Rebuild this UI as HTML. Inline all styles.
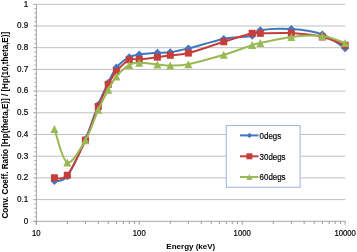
<!DOCTYPE html>
<html><head><meta charset="utf-8"><style>
html,body{margin:0;padding:0;background:#fff;width:357px;height:252px;overflow:hidden}
svg{display:block}
.t{font-family:"Liberation Sans",sans-serif;font-size:9px;fill:#000;stroke:#000;stroke-width:0.2px}
.b{font-family:"Liberation Sans",sans-serif;font-size:8px;font-weight:bold;fill:#000}
</style></head><body>
<svg width="357" height="252" viewBox="0 0 357 252">
<defs><filter id="gs" x="0" y="0" width="357" height="252" filterUnits="userSpaceOnUse"><feColorMatrix type="saturate" values="0"/></filter></defs>
<rect width="357" height="252" fill="#fff"/>
<line x1="36.4" y1="4.30" x2="345.4" y2="4.30" stroke="#BFBFBF" stroke-width="1"/>
<line x1="36.4" y1="26.00" x2="345.4" y2="26.00" stroke="#BFBFBF" stroke-width="1"/>
<line x1="36.4" y1="47.70" x2="345.4" y2="47.70" stroke="#BFBFBF" stroke-width="1"/>
<line x1="36.4" y1="69.40" x2="345.4" y2="69.40" stroke="#BFBFBF" stroke-width="1"/>
<line x1="36.4" y1="91.10" x2="345.4" y2="91.10" stroke="#BFBFBF" stroke-width="1"/>
<line x1="36.4" y1="112.80" x2="345.4" y2="112.80" stroke="#BFBFBF" stroke-width="1"/>
<line x1="36.4" y1="134.50" x2="345.4" y2="134.50" stroke="#BFBFBF" stroke-width="1"/>
<line x1="36.4" y1="156.20" x2="345.4" y2="156.20" stroke="#BFBFBF" stroke-width="1"/>
<line x1="36.4" y1="177.90" x2="345.4" y2="177.90" stroke="#BFBFBF" stroke-width="1"/>
<line x1="36.4" y1="199.60" x2="345.4" y2="199.60" stroke="#BFBFBF" stroke-width="1"/>
<line x1="33.2" y1="221.30" x2="36.4" y2="221.30" stroke="#A6A6A6" stroke-width="1"/>
<line x1="34.4" y1="216.96" x2="36.4" y2="216.96" stroke="#A6A6A6" stroke-width="1"/>
<line x1="34.4" y1="212.62" x2="36.4" y2="212.62" stroke="#A6A6A6" stroke-width="1"/>
<line x1="34.4" y1="208.28" x2="36.4" y2="208.28" stroke="#A6A6A6" stroke-width="1"/>
<line x1="34.4" y1="203.94" x2="36.4" y2="203.94" stroke="#A6A6A6" stroke-width="1"/>
<line x1="33.2" y1="199.60" x2="36.4" y2="199.60" stroke="#A6A6A6" stroke-width="1"/>
<line x1="34.4" y1="195.26" x2="36.4" y2="195.26" stroke="#A6A6A6" stroke-width="1"/>
<line x1="34.4" y1="190.92" x2="36.4" y2="190.92" stroke="#A6A6A6" stroke-width="1"/>
<line x1="34.4" y1="186.58" x2="36.4" y2="186.58" stroke="#A6A6A6" stroke-width="1"/>
<line x1="34.4" y1="182.24" x2="36.4" y2="182.24" stroke="#A6A6A6" stroke-width="1"/>
<line x1="33.2" y1="177.90" x2="36.4" y2="177.90" stroke="#A6A6A6" stroke-width="1"/>
<line x1="34.4" y1="173.56" x2="36.4" y2="173.56" stroke="#A6A6A6" stroke-width="1"/>
<line x1="34.4" y1="169.22" x2="36.4" y2="169.22" stroke="#A6A6A6" stroke-width="1"/>
<line x1="34.4" y1="164.88" x2="36.4" y2="164.88" stroke="#A6A6A6" stroke-width="1"/>
<line x1="34.4" y1="160.54" x2="36.4" y2="160.54" stroke="#A6A6A6" stroke-width="1"/>
<line x1="33.2" y1="156.20" x2="36.4" y2="156.20" stroke="#A6A6A6" stroke-width="1"/>
<line x1="34.4" y1="151.86" x2="36.4" y2="151.86" stroke="#A6A6A6" stroke-width="1"/>
<line x1="34.4" y1="147.52" x2="36.4" y2="147.52" stroke="#A6A6A6" stroke-width="1"/>
<line x1="34.4" y1="143.18" x2="36.4" y2="143.18" stroke="#A6A6A6" stroke-width="1"/>
<line x1="34.4" y1="138.84" x2="36.4" y2="138.84" stroke="#A6A6A6" stroke-width="1"/>
<line x1="33.2" y1="134.50" x2="36.4" y2="134.50" stroke="#A6A6A6" stroke-width="1"/>
<line x1="34.4" y1="130.16" x2="36.4" y2="130.16" stroke="#A6A6A6" stroke-width="1"/>
<line x1="34.4" y1="125.82" x2="36.4" y2="125.82" stroke="#A6A6A6" stroke-width="1"/>
<line x1="34.4" y1="121.48" x2="36.4" y2="121.48" stroke="#A6A6A6" stroke-width="1"/>
<line x1="34.4" y1="117.14" x2="36.4" y2="117.14" stroke="#A6A6A6" stroke-width="1"/>
<line x1="33.2" y1="112.80" x2="36.4" y2="112.80" stroke="#A6A6A6" stroke-width="1"/>
<line x1="34.4" y1="108.46" x2="36.4" y2="108.46" stroke="#A6A6A6" stroke-width="1"/>
<line x1="34.4" y1="104.12" x2="36.4" y2="104.12" stroke="#A6A6A6" stroke-width="1"/>
<line x1="34.4" y1="99.78" x2="36.4" y2="99.78" stroke="#A6A6A6" stroke-width="1"/>
<line x1="34.4" y1="95.44" x2="36.4" y2="95.44" stroke="#A6A6A6" stroke-width="1"/>
<line x1="33.2" y1="91.10" x2="36.4" y2="91.10" stroke="#A6A6A6" stroke-width="1"/>
<line x1="34.4" y1="86.76" x2="36.4" y2="86.76" stroke="#A6A6A6" stroke-width="1"/>
<line x1="34.4" y1="82.42" x2="36.4" y2="82.42" stroke="#A6A6A6" stroke-width="1"/>
<line x1="34.4" y1="78.08" x2="36.4" y2="78.08" stroke="#A6A6A6" stroke-width="1"/>
<line x1="34.4" y1="73.74" x2="36.4" y2="73.74" stroke="#A6A6A6" stroke-width="1"/>
<line x1="33.2" y1="69.40" x2="36.4" y2="69.40" stroke="#A6A6A6" stroke-width="1"/>
<line x1="34.4" y1="65.06" x2="36.4" y2="65.06" stroke="#A6A6A6" stroke-width="1"/>
<line x1="34.4" y1="60.72" x2="36.4" y2="60.72" stroke="#A6A6A6" stroke-width="1"/>
<line x1="34.4" y1="56.38" x2="36.4" y2="56.38" stroke="#A6A6A6" stroke-width="1"/>
<line x1="34.4" y1="52.04" x2="36.4" y2="52.04" stroke="#A6A6A6" stroke-width="1"/>
<line x1="33.2" y1="47.70" x2="36.4" y2="47.70" stroke="#A6A6A6" stroke-width="1"/>
<line x1="34.4" y1="43.36" x2="36.4" y2="43.36" stroke="#A6A6A6" stroke-width="1"/>
<line x1="34.4" y1="39.02" x2="36.4" y2="39.02" stroke="#A6A6A6" stroke-width="1"/>
<line x1="34.4" y1="34.68" x2="36.4" y2="34.68" stroke="#A6A6A6" stroke-width="1"/>
<line x1="34.4" y1="30.34" x2="36.4" y2="30.34" stroke="#A6A6A6" stroke-width="1"/>
<line x1="33.2" y1="26.00" x2="36.4" y2="26.00" stroke="#A6A6A6" stroke-width="1"/>
<line x1="34.4" y1="21.66" x2="36.4" y2="21.66" stroke="#A6A6A6" stroke-width="1"/>
<line x1="34.4" y1="17.32" x2="36.4" y2="17.32" stroke="#A6A6A6" stroke-width="1"/>
<line x1="34.4" y1="12.98" x2="36.4" y2="12.98" stroke="#A6A6A6" stroke-width="1"/>
<line x1="34.4" y1="8.64" x2="36.4" y2="8.64" stroke="#A6A6A6" stroke-width="1"/>
<line x1="33.2" y1="4.30" x2="36.4" y2="4.30" stroke="#A6A6A6" stroke-width="1"/>
<line x1="36.4" y1="4.3" x2="36.4" y2="224.5" stroke="#A6A6A6" stroke-width="1"/>
<line x1="33.2" y1="221.30" x2="345.4" y2="221.30" stroke="#A6A6A6" stroke-width="1"/>
<line x1="36.30" y1="221.30" x2="36.30" y2="224.70" stroke="#999" stroke-width="1"/>
<line x1="67.29" y1="221.30" x2="67.29" y2="224.00" stroke="#999" stroke-width="1"/>
<line x1="85.42" y1="221.30" x2="85.42" y2="224.00" stroke="#999" stroke-width="1"/>
<line x1="98.28" y1="221.30" x2="98.28" y2="224.00" stroke="#999" stroke-width="1"/>
<line x1="108.26" y1="221.30" x2="108.26" y2="224.00" stroke="#999" stroke-width="1"/>
<line x1="116.41" y1="221.30" x2="116.41" y2="224.00" stroke="#999" stroke-width="1"/>
<line x1="123.30" y1="221.30" x2="123.30" y2="224.00" stroke="#999" stroke-width="1"/>
<line x1="129.27" y1="221.30" x2="129.27" y2="224.00" stroke="#999" stroke-width="1"/>
<line x1="134.54" y1="221.30" x2="134.54" y2="224.00" stroke="#999" stroke-width="1"/>
<line x1="139.25" y1="221.30" x2="139.25" y2="224.70" stroke="#999" stroke-width="1"/>
<line x1="170.24" y1="221.30" x2="170.24" y2="224.00" stroke="#999" stroke-width="1"/>
<line x1="188.37" y1="221.30" x2="188.37" y2="224.00" stroke="#999" stroke-width="1"/>
<line x1="201.23" y1="221.30" x2="201.23" y2="224.00" stroke="#999" stroke-width="1"/>
<line x1="211.21" y1="221.30" x2="211.21" y2="224.00" stroke="#999" stroke-width="1"/>
<line x1="219.36" y1="221.30" x2="219.36" y2="224.00" stroke="#999" stroke-width="1"/>
<line x1="226.25" y1="221.30" x2="226.25" y2="224.00" stroke="#999" stroke-width="1"/>
<line x1="232.22" y1="221.30" x2="232.22" y2="224.00" stroke="#999" stroke-width="1"/>
<line x1="237.49" y1="221.30" x2="237.49" y2="224.00" stroke="#999" stroke-width="1"/>
<line x1="242.20" y1="221.30" x2="242.20" y2="224.70" stroke="#999" stroke-width="1"/>
<line x1="273.19" y1="221.30" x2="273.19" y2="224.00" stroke="#999" stroke-width="1"/>
<line x1="291.32" y1="221.30" x2="291.32" y2="224.00" stroke="#999" stroke-width="1"/>
<line x1="304.18" y1="221.30" x2="304.18" y2="224.00" stroke="#999" stroke-width="1"/>
<line x1="314.16" y1="221.30" x2="314.16" y2="224.00" stroke="#999" stroke-width="1"/>
<line x1="322.31" y1="221.30" x2="322.31" y2="224.00" stroke="#999" stroke-width="1"/>
<line x1="329.20" y1="221.30" x2="329.20" y2="224.00" stroke="#999" stroke-width="1"/>
<line x1="335.17" y1="221.30" x2="335.17" y2="224.00" stroke="#999" stroke-width="1"/>
<line x1="340.44" y1="221.30" x2="340.44" y2="224.00" stroke="#999" stroke-width="1"/>
<line x1="345.15" y1="221.30" x2="345.15" y2="224.70" stroke="#999" stroke-width="1"/>
<path d="M54.43,180.98 C56.57,180.18 62.13,183.14 67.29,176.21 C72.46,169.27 80.25,151.27 85.42,139.35 C90.58,127.43 94.48,114.09 98.28,104.66 C102.09,95.23 105.24,88.94 108.26,82.76 C111.28,76.59 112.91,71.85 116.41,67.59 C119.91,63.33 125.47,59.35 129.27,57.18 C133.08,55.01 134.57,55.30 139.25,54.58 C143.93,53.86 152.21,53.24 157.38,52.85 C162.54,52.45 165.08,52.94 170.24,52.20 C175.41,51.46 179.45,50.62 188.37,48.40 C197.29,46.19 213.12,41.01 223.76,38.91 C234.39,36.81 246.08,37.26 252.18,35.81 C258.27,34.35 253.80,31.31 260.33,30.19 C266.85,29.07 280.99,28.40 291.32,29.11 C301.65,29.81 313.34,31.22 322.31,34.42 C331.28,37.62 341.34,45.98 345.15,48.29" fill="none" stroke="#4077BF" stroke-width="2"/>
<path d="M54.43,176.98L58.43,180.98L54.43,184.98L50.43,180.98Z" fill="#4077BF"/>
<path d="M67.29,172.21L71.29,176.21L67.29,180.21L63.29,176.21Z" fill="#4077BF"/>
<path d="M85.42,135.35L89.42,139.35L85.42,143.35L81.42,139.35Z" fill="#4077BF"/>
<path d="M98.28,100.66L102.28,104.66L98.28,108.66L94.28,104.66Z" fill="#4077BF"/>
<path d="M108.26,78.76L112.26,82.76L108.26,86.76L104.26,82.76Z" fill="#4077BF"/>
<path d="M116.41,63.59L120.41,67.59L116.41,71.59L112.41,67.59Z" fill="#4077BF"/>
<path d="M129.27,53.18L133.27,57.18L129.27,61.18L125.27,57.18Z" fill="#4077BF"/>
<path d="M139.25,50.58L143.25,54.58L139.25,58.58L135.25,54.58Z" fill="#4077BF"/>
<path d="M157.38,48.85L161.38,52.85L157.38,56.85L153.38,52.85Z" fill="#4077BF"/>
<path d="M170.24,48.20L174.24,52.20L170.24,56.20L166.24,52.20Z" fill="#4077BF"/>
<path d="M188.37,44.40L192.37,48.40L188.37,52.40L184.37,48.40Z" fill="#4077BF"/>
<path d="M223.76,34.91L227.76,38.91L223.76,42.91L219.76,38.91Z" fill="#4077BF"/>
<path d="M252.18,31.81L256.18,35.81L252.18,39.81L248.18,35.81Z" fill="#4077BF"/>
<path d="M260.33,26.19L264.33,30.19L260.33,34.19L256.33,30.19Z" fill="#4077BF"/>
<path d="M291.32,25.11L295.32,29.11L291.32,33.11L287.32,29.11Z" fill="#4077BF"/>
<path d="M322.31,30.42L326.31,34.42L322.31,38.42L318.31,34.42Z" fill="#4077BF"/>
<path d="M345.15,44.29L349.15,48.29L345.15,52.29L341.15,48.29Z" fill="#4077BF"/>
<path d="M54.43,177.79 C56.57,177.36 62.13,181.49 67.29,175.21 C72.46,168.93 80.25,151.56 85.42,140.11 C90.58,128.66 94.48,115.79 98.28,106.50 C102.09,97.22 105.24,90.26 108.26,84.39 C111.28,78.52 112.91,75.38 116.41,71.27 C119.91,67.17 125.47,61.77 129.27,59.78 C133.08,57.80 134.57,59.78 139.25,59.35 C143.93,58.92 152.21,57.86 157.38,57.18 C162.54,56.51 165.08,55.98 170.24,55.30 C175.41,54.61 179.45,55.31 188.37,53.06 C197.29,50.81 213.12,45.08 223.76,41.79 C234.39,38.49 246.08,34.70 252.18,33.29 C258.27,31.88 253.80,33.36 260.33,33.33 C266.85,33.31 280.99,32.50 291.32,33.12 C301.65,33.73 313.34,35.00 322.31,37.02 C331.28,39.04 341.34,43.89 345.15,45.26" fill="none" stroke="#C53E3C" stroke-width="2"/>
<rect x="50.93" y="174.29" width="7.00" height="7.00" fill="#C53E3C"/>
<rect x="63.79" y="171.71" width="7.00" height="7.00" fill="#C53E3C"/>
<rect x="81.92" y="136.61" width="7.00" height="7.00" fill="#C53E3C"/>
<rect x="94.78" y="103.00" width="7.00" height="7.00" fill="#C53E3C"/>
<rect x="104.76" y="80.89" width="7.00" height="7.00" fill="#C53E3C"/>
<rect x="112.91" y="67.77" width="7.00" height="7.00" fill="#C53E3C"/>
<rect x="125.77" y="56.28" width="7.00" height="7.00" fill="#C53E3C"/>
<rect x="135.75" y="55.85" width="7.00" height="7.00" fill="#C53E3C"/>
<rect x="153.88" y="53.68" width="7.00" height="7.00" fill="#C53E3C"/>
<rect x="166.74" y="51.80" width="7.00" height="7.00" fill="#C53E3C"/>
<rect x="184.87" y="49.56" width="7.00" height="7.00" fill="#C53E3C"/>
<rect x="220.26" y="38.29" width="7.00" height="7.00" fill="#C53E3C"/>
<rect x="248.68" y="29.79" width="7.00" height="7.00" fill="#C53E3C"/>
<rect x="256.83" y="29.83" width="7.00" height="7.00" fill="#C53E3C"/>
<rect x="287.82" y="29.62" width="7.00" height="7.00" fill="#C53E3C"/>
<rect x="318.81" y="33.52" width="7.00" height="7.00" fill="#C53E3C"/>
<rect x="341.65" y="41.76" width="7.00" height="7.00" fill="#C53E3C"/>
<path d="M54.43,128.94 C56.57,134.54 62.13,160.67 67.29,162.55 C72.46,164.43 80.25,149.03 85.42,140.22 C90.58,131.40 94.48,118.07 98.28,109.65 C102.09,101.23 105.24,95.23 108.26,89.70 C111.28,84.17 112.91,80.61 116.41,76.48 C119.91,72.34 125.47,67.19 129.27,64.90 C133.08,62.61 134.57,62.79 139.25,62.71 C143.93,62.63 152.21,63.94 157.38,64.40 C162.54,64.86 165.08,65.52 170.24,65.49 C175.41,65.45 179.45,65.99 188.37,64.21 C197.29,62.43 213.12,57.98 223.76,54.80 C234.39,51.61 246.08,47.06 252.18,45.11 C258.27,43.16 253.80,44.44 260.33,43.09 C266.85,41.74 280.99,38.20 291.32,37.02 C301.65,35.84 313.34,34.99 322.31,36.00 C331.28,37.01 341.34,41.91 345.15,43.09" fill="none" stroke="#98B954" stroke-width="2"/>
<path d="M54.43,124.94L58.43,132.94L50.43,132.94Z" fill="#98B954"/>
<path d="M67.29,158.55L71.29,166.55L63.29,166.55Z" fill="#98B954"/>
<path d="M85.42,136.22L89.42,144.22L81.42,144.22Z" fill="#98B954"/>
<path d="M98.28,105.65L102.28,113.65L94.28,113.65Z" fill="#98B954"/>
<path d="M108.26,85.70L112.26,93.70L104.26,93.70Z" fill="#98B954"/>
<path d="M116.41,72.48L120.41,80.48L112.41,80.48Z" fill="#98B954"/>
<path d="M129.27,60.90L133.27,68.90L125.27,68.90Z" fill="#98B954"/>
<path d="M139.25,58.71L143.25,66.71L135.25,66.71Z" fill="#98B954"/>
<path d="M157.38,60.40L161.38,68.40L153.38,68.40Z" fill="#98B954"/>
<path d="M170.24,61.49L174.24,69.49L166.24,69.49Z" fill="#98B954"/>
<path d="M188.37,60.21L192.37,68.21L184.37,68.21Z" fill="#98B954"/>
<path d="M223.76,50.80L227.76,58.80L219.76,58.80Z" fill="#98B954"/>
<path d="M252.18,41.11L256.18,49.11L248.18,49.11Z" fill="#98B954"/>
<path d="M260.33,39.09L264.33,47.09L256.33,47.09Z" fill="#98B954"/>
<path d="M291.32,33.02L295.32,41.02L287.32,41.02Z" fill="#98B954"/>
<path d="M322.31,32.00L326.31,40.00L318.31,40.00Z" fill="#98B954"/>
<path d="M345.15,39.09L349.15,47.09L341.15,47.09Z" fill="#98B954"/>
<rect x="226.3" y="125.5" width="73.8" height="61.8" fill="#fff" stroke="#A2BBDC" stroke-width="1.1"/>
<line x1="240" y1="135.40" x2="258.5" y2="135.40" stroke="#4077BF" stroke-width="2"/>
<path d="M249.40,132.70L252.10,135.40L249.40,138.10L246.70,135.40Z" fill="#4077BF"/>
<line x1="240" y1="156.30" x2="258.5" y2="156.30" stroke="#C53E3C" stroke-width="2"/>
<rect x="246.40" y="153.30" width="6.00" height="6.00" fill="#C53E3C"/>
<line x1="240" y1="177.00" x2="258.5" y2="177.00" stroke="#98B954" stroke-width="2"/>
<path d="M249.40,174.00L252.40,180.00L246.40,180.00Z" fill="#98B954"/>
<g filter="url(#gs)"><text transform="translate(28.2,223.60) scale(0.9,1)" text-anchor="end" class="t">0</text>
<text transform="translate(28.2,201.90) scale(0.9,1)" text-anchor="end" class="t">0.1</text>
<text transform="translate(28.2,180.20) scale(0.9,1)" text-anchor="end" class="t">0.2</text>
<text transform="translate(28.2,158.50) scale(0.9,1)" text-anchor="end" class="t">0.3</text>
<text transform="translate(28.2,136.80) scale(0.9,1)" text-anchor="end" class="t">0.4</text>
<text transform="translate(28.2,115.10) scale(0.9,1)" text-anchor="end" class="t">0.5</text>
<text transform="translate(28.2,93.40) scale(0.9,1)" text-anchor="end" class="t">0.6</text>
<text transform="translate(28.2,71.70) scale(0.9,1)" text-anchor="end" class="t">0.7</text>
<text transform="translate(28.2,50.00) scale(0.9,1)" text-anchor="end" class="t">0.8</text>
<text transform="translate(28.2,28.30) scale(0.9,1)" text-anchor="end" class="t">0.9</text>
<text transform="translate(28.2,6.60) scale(0.9,1)" text-anchor="end" class="t">1</text>
<text transform="translate(36.30,235.9) scale(0.86,1)" text-anchor="middle" class="t">10</text>
<text transform="translate(139.25,235.9) scale(0.86,1)" text-anchor="middle" class="t">100</text>
<text transform="translate(242.20,235.9) scale(0.86,1)" text-anchor="middle" class="t">1000</text>
<text transform="translate(345.15,235.9) scale(0.86,1)" text-anchor="middle" class="t">10000</text>
<text x="190.8" y="249.2" text-anchor="middle" class="b">Energy (keV)</text>
<text transform="translate(7.6,125.2) rotate(-90) scale(0.9,1)" text-anchor="middle" class="b" style="font-size:9px">Conv. Coeff. Ratio [Hp(theta,E)] / [Hp(10,theta,E)]</text>
<text transform="translate(259.6,138.60) scale(0.88,1)" class="t">0degs</text>
<text transform="translate(259.6,159.50) scale(0.88,1)" class="t">30degs</text>
<text transform="translate(259.6,180.20) scale(0.88,1)" class="t">60degs</text></g>
</svg>
</body></html>
